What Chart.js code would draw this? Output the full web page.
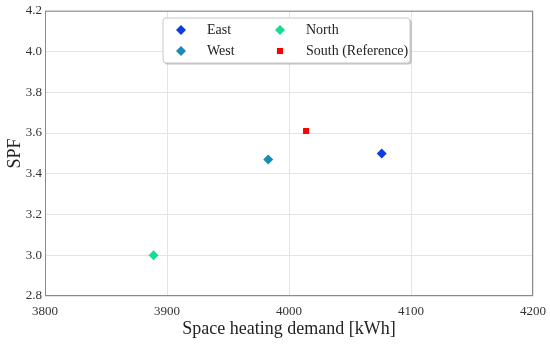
<!DOCTYPE html>
<html>
<head>
<meta charset="utf-8">
<script src="https://cdn.jsdelivr.net/npm/chart.js@4"></script>
<style>
  html, body { margin: 0; padding: 0; background: #fff; }
  #wrap { width: 550px; height: 344px; }
</style>
</head>
<body>
<div id="wrap"><canvas id="chart" width="550" height="344"></canvas></div>
<script>
// orientation cases, heating demand [kWh] vs SPF
const labels = ["East", "West", "North", "South (Reference)"];
const demand = [4076, 3983, 3889, 4014];
const spf = [3.50, 3.47, 3.00, 3.61];
const colors = ["#0a3ee0", "#1a8cb8", "#18dc8f", "#ff0000"];
const shapes = ["rectRot", "rectRot", "rectRot", "rect"];

const serif = "'Liberation Serif', 'DejaVu Serif', serif";

const datasets = labels.map((l, i) => ({
  label: l,
  data: [{ x: demand[i], y: spf[i] }],
  pointStyle: shapes[i],
  pointRadius: shapes[i] == "rect" ? 4.3 : 5,
  backgroundColor: colors[i],
  borderColor: colors[i],
  borderWidth: 0,
}));

// legend drawn as a framed box, two columns like the original
const boxLegend = {
  id: "boxLegend",
  afterDraw(chart) {
    const ctx = chart.ctx;
    const x0 = 163, y0 = 18, w = 247, h = 45;
    ctx.save();
    ctx.shadowColor = "rgba(0,0,0,0.25)";
    ctx.shadowOffsetX = 1.5;
    ctx.shadowOffsetY = 1.5;
    ctx.shadowBlur = 1;
    ctx.fillStyle = "#fff";
    ctx.beginPath();
    ctx.roundRect(x0, y0, w, h, 3);
    ctx.fill();
    ctx.shadowColor = "transparent";
    ctx.strokeStyle = "#c8c8c8";
    ctx.lineWidth = 1;
    ctx.stroke();
    const cols = [181, 280], rows = [30, 51];
    ctx.font = "14px " + serif;
    ctx.textBaseline = "middle";
    chart.data.datasets.forEach((ds, i) => {
      const cx = cols[Math.floor(i / 2)], cy = rows[i % 2];
      ctx.fillStyle = ds.backgroundColor;
      Chart.helpers.drawPoint(ctx, { pointStyle: ds.pointStyle, radius: ds.pointRadius, borderWidth: 0 }, cx, cy);
      ctx.fillStyle = "#222";
      ctx.fillText(ds.label, cx + 26, cy);
    });
    ctx.restore();
  }
};

const frame = {
  id: "frame",
  afterDatasetsDraw(chart) {
    const a = chart.chartArea, ctx = chart.ctx;
    ctx.save();
    ctx.strokeStyle = "#8a8a8a";
    ctx.lineWidth = 1;
    ctx.strokeRect(a.left + 0.5, a.top + 0.5, a.right - a.left - 1, a.bottom - a.top - 1);
    ctx.restore();
  }
};

new Chart(document.getElementById("chart"), {
  type: "scatter",
  data: { datasets: datasets },
  plugins: [frame, boxLegend],
  options: {
    responsive: false,
    animation: false,
    layout: { padding: { top: 10, right: 17, left: 0, bottom: 0 } },
    plugins: { legend: { display: false }, tooltip: { enabled: false } },
    scales: {
      x: {
        min: 3800, max: 4200,
        ticks: { stepSize: 100, color: "#333", font: { family: serif, size: 13 }, padding: 8,
          callback: v => String(v) },
        grid: { color: "#e4e4e4", drawTicks: false },
        border: { display: false },
        title: { display: true, text: "Space heating demand [kWh]", color: "#222", font: { family: serif, size: 18 }, padding: { top: 0 } },
        afterFit(s) { s.height = 48; s.paddingLeft = 0; s.paddingRight = 0; }
      },
      y: {
        min: 2.8, max: 4.2,
        ticks: { stepSize: 0.2, color: "#333", font: { family: serif, size: 13 }, padding: 3,
          callback: v => v.toFixed(1) },
        grid: { color: "#e4e4e4", drawTicks: false },
        border: { display: false },
        title: { display: true, text: "SPF", color: "#222", font: { family: serif, size: 18 }, padding: { bottom: 2 } },
        afterFit(s) { s.width = 45; }
      }
    }
  }
});
</script>
</body>
</html>
